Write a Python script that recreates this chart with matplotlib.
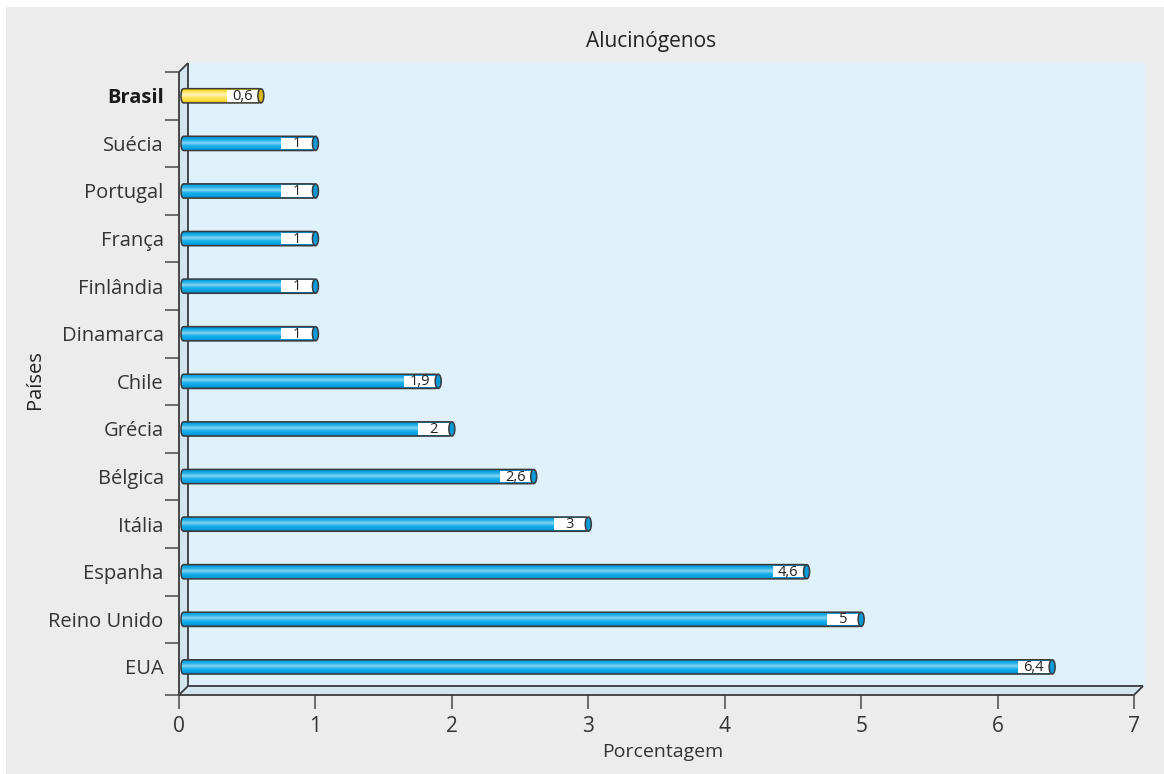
import matplotlib
matplotlib.use("Agg")
import matplotlib.pyplot as plt
import matplotlib.transforms as mtrans
from matplotlib.patches import Rectangle, Polygon, Ellipse, FancyBboxPatch
from matplotlib.colors import LinearSegmentedColormap
import numpy as np

plt.rcParams['font.family'] = ['Open Sans', 'DejaVu Sans']

countries = ["EUA", "Reino Unido", "Espanha", "Itália", "Bélgica", "Grécia", "Chile",
             "Dinamarca", "Finlândia", "França", "Portugal", "Suécia", "Brasil"]
values = [6.4, 5, 4.6, 3, 2.6, 2, 1.9, 1, 1, 1, 1, 1, 0.6]
labels = ["6,4", "5", "4,6", "3", "2,6", "2", "1,9", "1", "1", "1", "1", "1", "0,6"]
highlight = "Brasil"
xticks = [0, 1, 2, 3, 4, 5, 6, 7]
title = "Alucinógenos"
xlabel = "Porcentagem"
ylabel = "Países"

W, H = 1164, 774
DPI = 100
fig = plt.figure(figsize=(W / DPI, H / DPI), dpi=DPI, facecolor="white")
fig.patches.append(Rectangle((6 / W, 0), 1 - 6 / W, 1 - 7 / H, transform=fig.transFigure,
                             facecolor="#ebeceb", edgecolor="none", zorder=-10))

left_px, right_px, top_px, bot_px = 179, 1134, 72, 695
ax = fig.add_axes([left_px / W, 1 - bot_px / H, (right_px - left_px) / W, (bot_px - top_px) / H])
ax.set_facecolor("none")
for s in ax.spines.values():
    s.set_visible(False)

n = len(countries)
ys = np.arange(n)
ax.set_xlim(0, 7)
ax.set_ylim(-0.59, n - 0.5)

depth = 9 / DPI
off = mtrans.ScaledTranslation(depth, depth, fig.dpi_scale_trans)
tback = ax.transAxes + off
edge = "#3a3a3a"
wallc = "#d3e6f0"
backc = "#dff1fb"

ax.add_patch(Rectangle((0, 0), 1.002, 1, transform=tback, facecolor=backc, edgecolor="none",
                       zorder=0, clip_on=False))
dxa = 9 / (right_px - left_px)
dya = 9 / (bot_px - top_px)
ax.add_patch(Polygon([(0, 0), (0, 1), (dxa, 1 + dya), (dxa, dya)], closed=True,
                     transform=ax.transAxes, facecolor=wallc, edgecolor="none", zorder=1, clip_on=False))
ax.add_patch(Polygon([(0, 0), (1, 0), (1 + dxa, dya), (dxa, dya)], closed=True,
                     transform=ax.transAxes, facecolor=wallc, edgecolor="none", zorder=1, clip_on=False))
lw = 1.3
lines = [
    [(0, 0), (0, 1)], [(0, 1), (dxa, 1 + dya)], [(dxa, 1 + dya), (dxa, dya)],
    [(0, 0), (1, 0)], [(1, 0), (1 + dxa, dya)], [(dxa, dya), (1 + dxa, dya)], [(0, 0), (dxa, dya)],
]
for seg in lines:
    xs_, ys_ = zip(*seg)
    ax.plot(xs_, ys_, transform=ax.transAxes, color=edge, lw=lw, clip_on=False, zorder=2,
            solid_capstyle="butt")

blue_stops = [(0.0, "#0a6fa8"), (0.12, "#00a2e2"), (0.35, "#1ab0ea"), (0.55, "#8fd6f4"),
              (0.7, "#2ab4ea"), (0.88, "#009fe0"), (1.0, "#0a6fa8")]
yel_stops = [(0.0, "#b89a10"), (0.12, "#ffdc30"), (0.35, "#ffe45a"), (0.55, "#fff6c8"),
             (0.7, "#ffe868"), (0.88, "#ffd820"), (1.0, "#b89a10")]
cm_blue = LinearSegmentedColormap.from_list("gblue", blue_stops)
cm_yel = LinearSegmentedColormap.from_list("gyel", yel_stops)
grad = np.linspace(1, 0, 64).reshape(-1, 1)

bh = 0.30
px_per_x = (right_px - left_px) / 7.0
box_w = 34 / px_per_x
cap_w = 6 / px_per_x
start = 2 / px_per_x
for y, v, lab, c in zip(ys, values, labels, countries):
    cmap = cm_yel if c == highlight else cm_blue
    capc = "#d8b818" if c == highlight else "#0a9ad8"
    im = ax.imshow(grad, cmap=cmap, aspect="auto", extent=[start, v, y - bh / 2, y + bh / 2],
                   zorder=3, interpolation="bicubic")
    clip = FancyBboxPatch((start, y - bh / 2), v - start, bh,
                          boxstyle="round,pad=0,rounding_size=0.02", mutation_aspect=7,
                          transform=ax.transData, facecolor="none", edgecolor="none")
    ax.add_patch(clip)
    im.set_clip_path(clip)
    ax.add_patch(Rectangle((v - box_w, y - bh / 2 + 0.03), box_w, bh - 0.06, facecolor="white",
                           edgecolor="none", zorder=4))
    ax.add_patch(FancyBboxPatch((start, y - bh / 2), v - start, bh,
                                boxstyle="round,pad=0,rounding_size=0.02", mutation_aspect=7,
                                facecolor="none", edgecolor=edge, lw=1.1, zorder=5))
    ax.add_patch(Ellipse((v, y), cap_w, bh, facecolor=capc, edgecolor=edge, lw=1.1, zorder=6))
    ax.text(v - box_w / 2 - 0.01, y - 0.01, lab, ha="center", va="center", fontsize=10.5,
            color="#222222", zorder=7)

ax.set_yticks(ys)
ax.set_yticklabels(countries)
for t in ax.get_yticklabels():
    t.set_fontsize(14.5)
    t.set_color("#333333")
    if t.get_text() == highlight:
        t.set_fontweight("bold")
        t.set_color("#1a1a1a")
ax.tick_params(axis="y", length=0, pad=11)
yb = [-0.59] + [k + 0.5 for k in range(n)]
ax.set_yticks(yb, minor=True)
ax.tick_params(axis="y", which="minor", length=10, width=1.2, color="#555555", direction="out")

ax.set_xticks(xticks)
ax.set_xticklabels([str(x) for x in xticks])
ax.tick_params(axis="x", length=10, width=1.2, color="#555555", direction="out", pad=5,
               labelsize=15, labelcolor="#333333")

fig.text(651 / W, 1 - 42 / H, title, ha="center", va="center", fontsize=15, color="#222222")
fig.text(663 / W, 1 - 752 / H, xlabel, ha="center", va="center", fontsize=14, color="#333333")
fig.text(35 / W, 1 - 380 / H, ylabel, ha="center", va="center", rotation=90, fontsize=14.5,
         color="#222222")

fig.savefig("out.png", dpi=DPI, facecolor=fig.get_facecolor())
